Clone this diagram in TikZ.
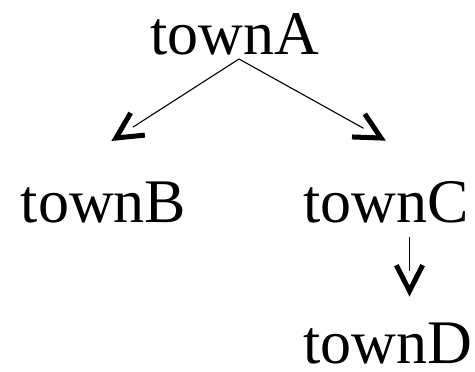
\documentclass[tikz,border=0pt]{standalone}
\usepackage{fontspec}
\setmainfont{Liberation Serif}
\usetikzlibrary{calc}
\begin{document}
\begin{tikzpicture}[x=1pt,y=-1pt,
  town/.style={inner sep=0pt, outer sep=0pt, anchor=base, font=\fontsize{62}{72}\selectfont},
  shaft/.style={line width=1.1pt, shorten >=20pt},
  head/.style={line width=5pt, line cap=butt, line join=miter}]
\useasboundingbox (0,0) rectangle (475,372);
\node[town] (townA) at (235,55) {townA};
\node[town] (townB) at (103.5,222) {townB};
\node[town] (townC) at (386,222) {townC};
\node[town] (townD) at (387.5,363) {townD};
\coordinate (outA) at ([xshift=4pt,yshift=-4pt]townA.base);
\coordinate (outC) at ([xshift=23.5pt,yshift=-15pt]townC.base);
\coordinate (tipB) at (116,138);
\coordinate (tipC) at (381,138);
\coordinate (tipD) at (409.5,291);
\draw[shaft] (outA) -- (tipB);
\draw[shaft] (outA) -- (tipC);
\draw[shaft] (outC) -- (tipD);
\draw[head] ($(tipB)!29pt!27:(outA)$) -- (tipB) -- ($(tipB)!29pt!-27:(outA)$);
\draw[head] ($(tipC)!29pt!27:(outA)$) -- (tipC) -- ($(tipC)!29pt!-27:(outA)$);
\draw[head] ($(tipD)!29pt!27:(outC)$) -- (tipD) -- ($(tipD)!29pt!-27:(outC)$);
\end{tikzpicture}
\end{document}
